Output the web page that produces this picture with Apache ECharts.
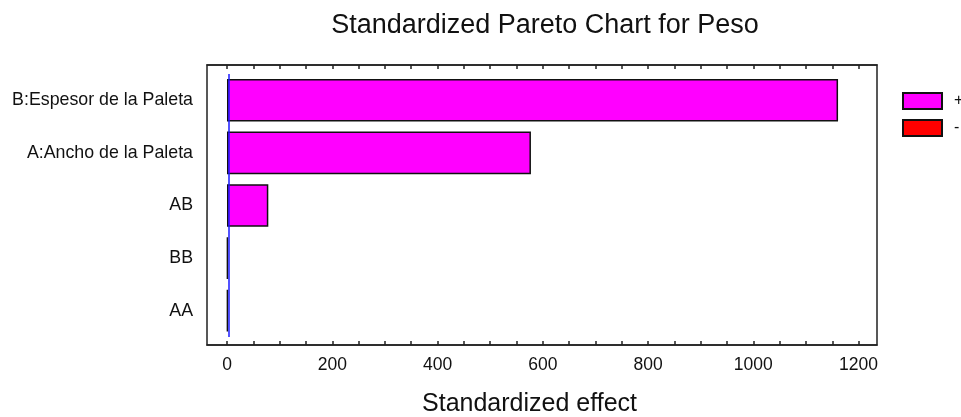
<!DOCTYPE html>
<html>
<head>
<meta charset="utf-8">
<title>Standardized Pareto Chart for Peso</title>
<script src="https://cdn.jsdelivr.net/npm/echarts@6/dist/echarts.min.js"></script>
<style>
    html, body {margin: 0; padding: 0; background: #fff;}
    #chart {width: 961px; height: 417px;}
</style>
</head>
<body>
<div id="chart"></div>
<script>
// efectos estandarizados (de mayor a menor)
const categories = ['B:Espesor de la Paleta', 'A:Ancho de la Paleta', 'AB', 'BB', 'AA'];
const positiveEffects = [1161, 577.5, 78.5, 1.5, 1.5];
const negativeEffects = [];
// linea de significancia (t critico)
const critical = 2.57;
const tickLabels = [0, 200, 400, 600, 800, 1000, 1200];
const tickMarks = [0, 50, 100, 150, 200, 250, 300, 350, 400, 450, 500, 550, 600,
    650, 700, 750, 800, 850, 900, 950, 1000, 1050, 1100, 1150, 1200];

const font = 'Liberation Sans, Arial, sans-serif';
const xMin = -38, xMax = 1235;

let chart = echarts.init(document.getElementById('chart'));

chart.setOption({
    animation: false,
    title: {
        text: 'Standardized Pareto Chart for Peso',
        left: 540,
        top: 7,
        textAlign: 'center',
        textStyle: {color: '#111', fontSize: 27, fontWeight: 'normal', fontFamily: font}
    },
    legend: {
        orient: 'vertical',
        left: 902,
        top: 92,
        padding: 0,
        itemWidth: 39,
        itemHeight: 16,
        itemGap: 9,
        icon: 'rect',
        data: ['+', '-'],
        textStyle: {color: '#111', fontSize: 16, fontFamily: font, padding: [0, 0, 0, 7]}
    },
    grid: [
        // marco
        {left: 207, top: 65, width: 670, height: 280, outerBoundsMode: 'none',
            show: true, borderColor: '#222', borderWidth: 1.5},
        // barras
        {left: 207, top: 74, width: 670, height: 263, outerBoundsMode: 'none'}
    ],
    xAxis: [
        {
            type: 'value', gridIndex: 0, min: xMin, max: xMax, position: 'bottom',
            axisLine: {show: true, onZero: false, lineStyle: {color: '#222', width: 1.5}},
            axisTick: {show: true, inside: true, length: 4, customValues: tickMarks, lineStyle: {color: '#222', width: 1.5}},
            axisLabel: {
                customValues: tickLabels, margin: 11, color: '#111', fontSize: 17.5, fontFamily: font,
                formatter: v => String(v)
            },
            splitLine: {show: false},
            name: 'Standardized effect',
            nameLocation: 'middle',
            nameGap: 47,
            nameTextStyle: {color: '#111', fontSize: 25, fontFamily: font, padding: [0, 25, 0, 0]}
        },
        {
            type: 'value', gridIndex: 0, min: xMin, max: xMax, position: 'top',
            axisLine: {show: true, onZero: false, lineStyle: {color: '#222', width: 1.5}},
            axisTick: {show: true, inside: true, length: 4, customValues: tickMarks, lineStyle: {color: '#222', width: 1.5}},
            axisLabel: {show: false},
            splitLine: {show: false}
        },
        {
            type: 'value', gridIndex: 1, min: xMin, max: xMax, show: false
        }
    ],
    yAxis: [
        {type: 'value', gridIndex: 0, show: false},
        {
            type: 'category', gridIndex: 1, data: categories, inverse: true,
            axisLine: {show: false},
            axisTick: {show: false},
            axisLabel: {margin: 14, color: '#111', fontSize: 17.8, fontFamily: font}
        }
    ],
    series: [
        {
            name: '+',
            type: 'bar',
            xAxisIndex: 2,
            yAxisIndex: 1,
            stack: 'efecto',
            barCategoryGap: '19%',
            data: positiveEffects,
            itemStyle: {color: '#ff00ff', borderColor: '#111', borderWidth: 1.5},
            markLine: {
                silent: true,
                symbol: 'none',
                label: {show: false},
                lineStyle: {color: '#1a1aff', width: 1.5, type: 'solid'},
                data: [{xAxis: critical}]
            }
        },
        {
            name: '-',
            type: 'bar',
            xAxisIndex: 2,
            yAxisIndex: 1,
            stack: 'efecto',
            data: negativeEffects,
            itemStyle: {color: '#ff0000', borderColor: '#111', borderWidth: 1.5}
        }
    ]
});
</script>
</body>
</html>
